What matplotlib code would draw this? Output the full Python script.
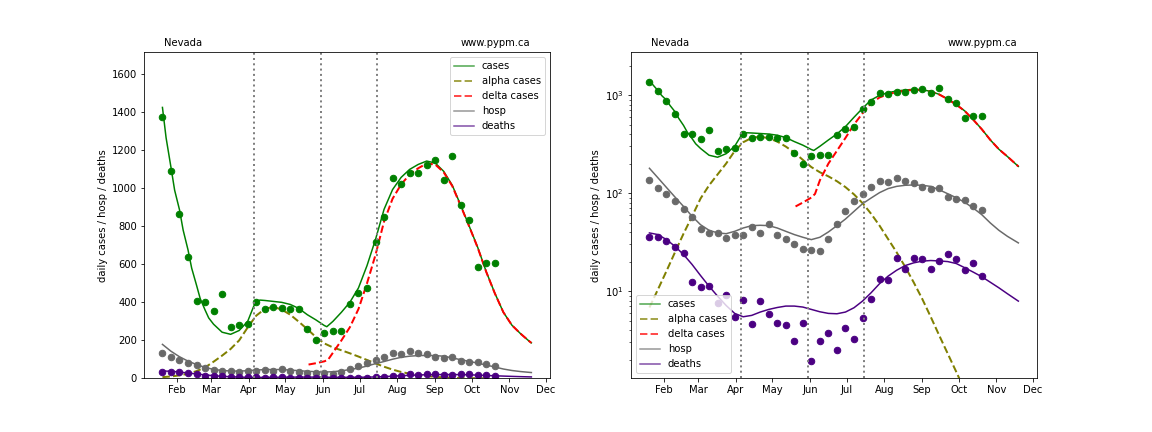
import numpy as np
import matplotlib.pyplot as plt
import matplotlib.dates as mdates

# Nevada, 2021: weekly data points and model curves (days after 2021-01-20)
start = np.datetime64('2021-01-20')
obs_days = np.arange(0, 280, 7)

cases_obs = [1374, 1089, 863, 637, 405, 400, 353, 442, 270, 279, 286, 402, 363, 375,
             370, 365, 365, 258, 200, 237, 247, 247, 389, 449, 475, 717, 847, 1054,
             1022, 1079, 1079, 1121, 1147, 1042, 1168, 910, 833, 584, 607, 607]
hosp_obs = [135, 112, 98, 83, 69, 56.5, 43, 39.5, 39.5, 34.8, 37.7, 37.7, 45, 39.5,
            48.4, 37.4, 34, 30.3, 26.9, 26.3, 25.9, 34, 48.4, 65.6, 83, 97.7, 115, 132,
            129, 142, 132, 127, 115, 110, 112, 91, 87, 85, 73.8, 67.1]
deaths_obs = [35.6, 35.6, 32.5, 28.2, 24.7, 12.4, 11.1, 11.3, 7.6, 9.2, 5.4, 8.1, 4.65,
              8.0, 5.9, 4.75, 4.54, 3.12, 4.75, 1.95, 3.12, 3.77, 2.53, 4.24, 3.27, 5.35,
              8.35, 13.3, 13.0, 21.8, 16.9, 21.8, 21.3, 16.9, 20.3, 23.9, 21.3, 16.5,
              19.4, 14.3]

cases_days = [0, 3, 7, 10, 14, 17, 21, 24, 28, 31, 35, 38, 42, 49, 56, 63, 70, 75, 77,
              80, 84, 91, 98, 105, 112, 119, 126, 133, 135, 140, 147, 154, 161, 168, 175,
              182, 189, 196, 203, 210, 217, 224, 231, 238, 245, 252, 259, 266, 273, 280,
              287, 294, 301, 303]
cases_fit = [1425, 1265, 1110, 990, 887, 780, 676, 580, 490, 420, 360, 318, 285, 243,
             232, 252, 300, 380, 401, 412, 410, 405, 400, 389, 368, 335, 308, 278, 272,
             300, 348, 401, 476, 593, 731, 889, 993, 1057, 1099, 1125, 1143, 1133, 1089,
             1016, 910, 800, 688, 560, 448, 348, 280, 236, 197, 187]

alpha_days = [0, 7, 14, 21, 28, 35, 42, 49, 56, 63, 70, 77, 84, 91, 98, 105, 112, 119,
              126, 133, 140, 147, 154, 161, 168, 175, 182, 189, 196, 203, 210, 217, 224,
              231, 238, 245, 252, 259, 266]
alpha_fit = [6.8, 10.4, 16.0, 24.9, 38.5, 57.8, 88, 120, 155, 200, 268, 330, 365, 377,
             362, 335, 298, 259, 218, 184, 163, 148, 132, 115, 97, 79, 61.6, 46.5, 34,
             24.9, 17.7, 12.3, 8.35, 5.47, 3.53, 2.3, 1.5, 0.97, 0.62]

delta_days = [120, 126, 133, 136, 140, 147, 154, 161, 168, 175, 182, 189, 196, 203, 210,
              217, 224, 231, 238, 245, 252, 259, 266, 273, 280, 287, 294, 301, 303]
delta_fit = [73, 80, 90, 98, 135, 200, 270, 365, 500, 650, 825, 945, 1020, 1072, 1105,
             1130, 1125, 1084, 1012, 907, 798, 686, 559, 447, 348, 280, 236, 197, 187]

hosp_days = [0, 7, 14, 21, 28, 35, 42, 49, 56, 63, 70, 77, 84, 91, 98, 105, 112, 119,
             126, 133, 140, 147, 154, 161, 168, 175, 182, 189, 196, 203, 210, 217, 224,
             231, 238, 245, 252, 259, 266, 273, 280, 287, 294, 303]
hosp_fit = [179, 143, 114, 91, 73, 58, 47.5, 41.7, 39.2, 38.5, 40.7, 44, 46.5, 46.9, 46.5,
            44, 40.7, 37.7, 35.4, 33.5, 35.4, 40.1, 46.5, 54.3, 65, 77.8, 88.9, 101, 111,
            117, 120, 121, 120, 117, 108, 98.4, 89.6, 80.3, 70.3, 60.1, 49.5, 41.7, 36.2, 31]

deaths_days = hosp_days
deaths_fit = [39.2, 37.7, 33.5, 28.6, 23.6, 18.7, 14.4, 11.2, 8.87, 7.13, 5.92, 5.47, 5.65,
              6.11, 6.5, 6.8, 7.03, 7.03, 6.87, 6.5, 6.15, 5.92, 5.87, 6.11, 6.76, 7.9, 9.6,
              11.9, 14.2, 16.3, 18.2, 19.4, 20.2, 20.5, 20.3, 20.0, 19.1, 17.3, 15.6, 14.0,
              12.3, 10.8, 9.4, 7.9]

transitions = ['2021-04-05', '2021-05-30', '2021-07-15']


def to_dates(days):
    return start + np.array(days, dtype='timedelta64[D]')


fig, axes = plt.subplots(1, 2, figsize=(16, 6))
fig.subplots_adjust(left=0.125, right=0.9, bottom=0.124, top=0.879, wspace=0.2)

for i, ax in enumerate(axes):
    ax.plot(to_dates(cases_days), cases_fit, color='green', lw=1.5, label='cases')
    ax.plot(to_dates(alpha_days), alpha_fit, color='olive', ls='--', lw=2, label='alpha cases')
    ax.plot(to_dates(delta_days), delta_fit, color='red', ls='--', lw=2, label='delta cases')
    ax.plot(to_dates(hosp_days), hosp_fit, color='dimgrey', lw=1.5, label='hosp')
    ax.plot(to_dates(deaths_days), deaths_fit, color='indigo', lw=1.5, label='deaths')

    ax.plot(to_dates(obs_days), cases_obs, 'o', color='green', ms=6.5)
    ax.plot(to_dates(obs_days), hosp_obs, 'o', color='dimgrey', ms=6.5)
    ax.plot(to_dates(obs_days), deaths_obs, 'o', color='indigo', ms=6.5)

    for t in transitions:
        ax.axvline(np.datetime64(t), color='grey', ls=':', lw=2)

    ax.xaxis.set_major_locator(mdates.MonthLocator())
    ax.xaxis.set_major_formatter(mdates.DateFormatter('%b'))
    ax.set_ylabel('daily cases / hosp / deaths')
    ax.text(0.05, 1.02, 'Nevada', transform=ax.transAxes)
    ax.text(0.78, 1.02, 'www.pypm.ca', transform=ax.transAxes)

    if i == 0:
        ax.set_ylim(0, 1715)
        leg = ax.legend(loc='upper right')
    else:
        ax.set_yscale('log')
        ax.set_ylim(1.285, 2730)
        leg = ax.legend(loc='lower left')
    for h in leg.legend_handles:
        h.set_alpha(0.7)

plt.savefig('out.png', dpi=72)
